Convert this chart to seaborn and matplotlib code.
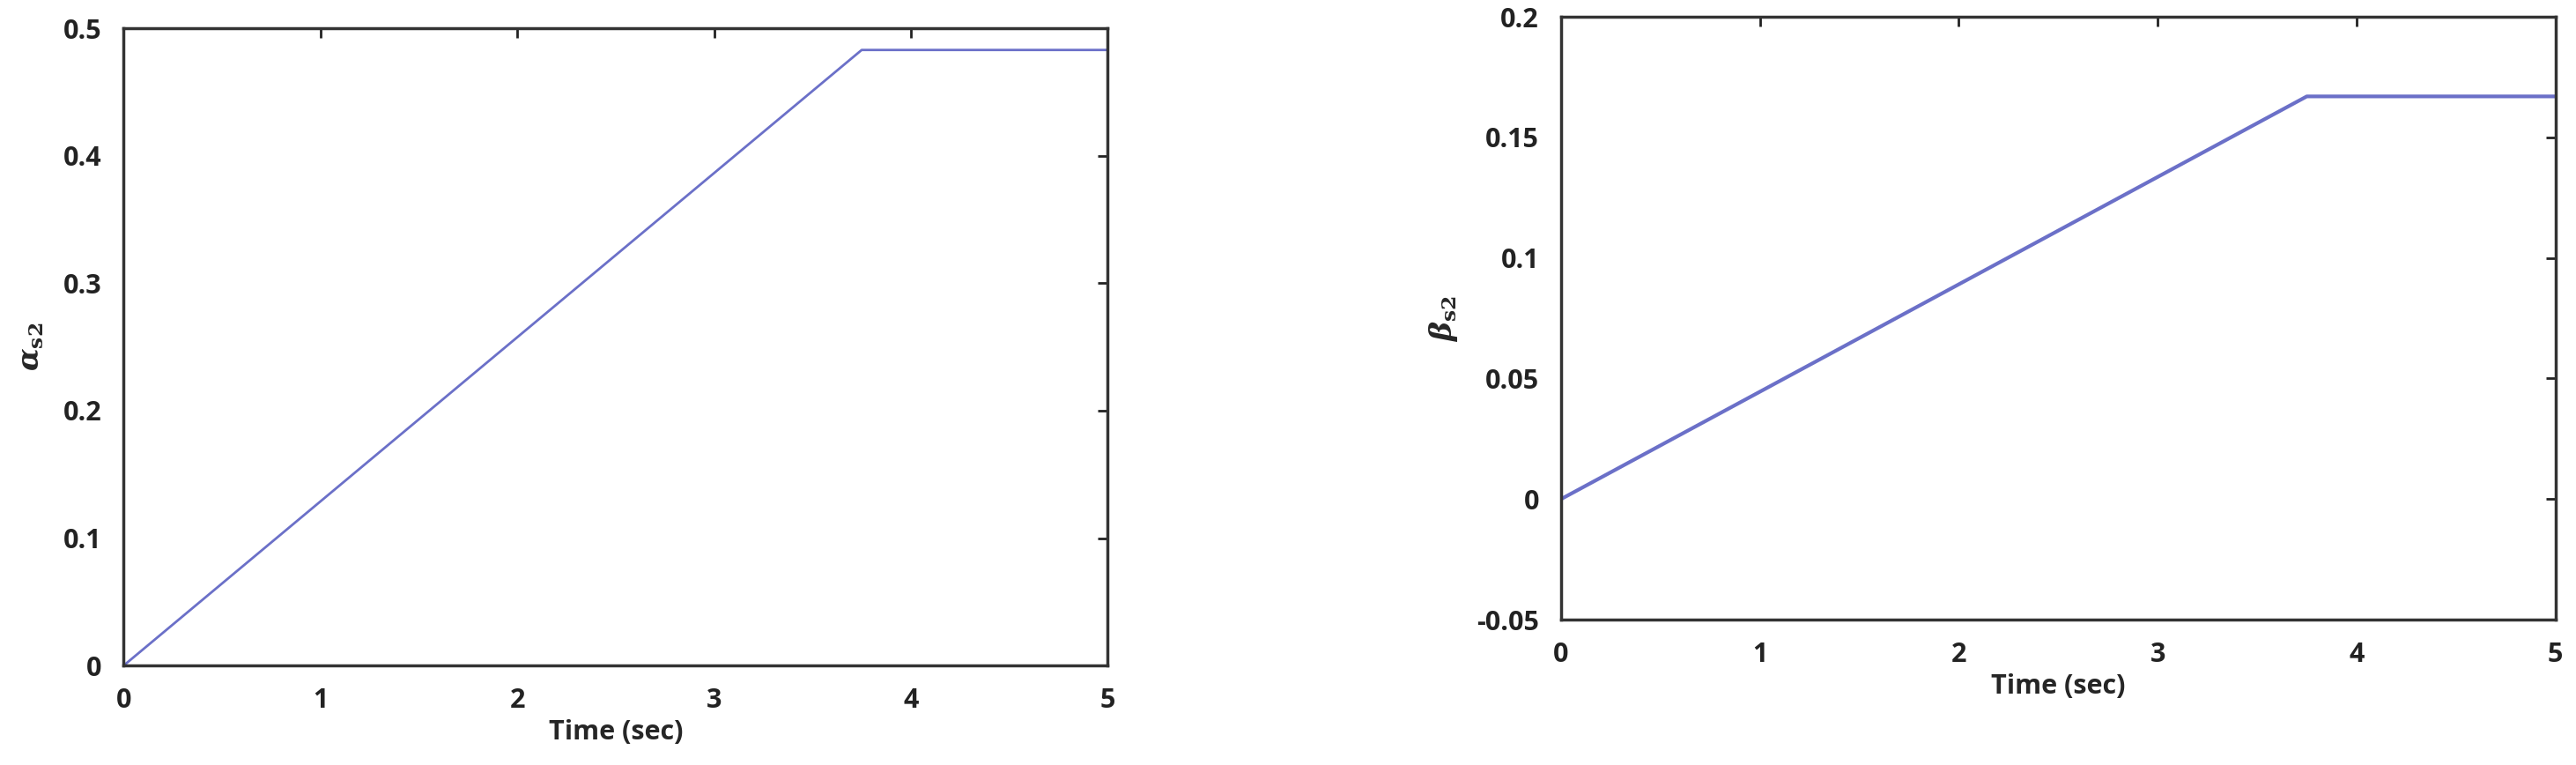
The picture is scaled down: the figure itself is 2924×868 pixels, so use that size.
import matplotlib
matplotlib.use("Agg")
import matplotlib.pyplot as plt
import pandas as pd
import seaborn as sns

time = [0.0, 3.75, 5.0]
alpha_s2 = [0.0, 0.483, 0.483]
beta_s2 = [0.0, 0.167, 0.167]

sns.set_theme(style="white")
plt.rcParams["font.family"] = ["Open Sans", "DejaVu Sans"]
plt.rcParams["mathtext.fontset"] = "dejavuserif"

fig = plt.figure(figsize=(29.24, 8.68), dpi=100)
ax1 = fig.add_axes([0.048, 0.130, 0.382, 0.833])
ax2 = fig.add_axes([0.606, 0.190, 0.386, 0.788])

df = pd.DataFrame({"time": time, "alpha": alpha_s2, "beta": beta_s2})
color = "#6b70c8"

sns.lineplot(data=df, x="time", y="alpha", ax=ax1, color=color, linewidth=2)
sns.lineplot(data=df, x="time", y="beta", ax=ax2, color=color, linewidth=3)

ax1.set_xlim(0, 5)
ax1.set_ylim(0, 0.5)
ax1.set_yticks([0, 0.1, 0.2, 0.3, 0.4, 0.5])
ax1.set_yticklabels(["0", "0.1", "0.2", "0.3", "0.4", "0.5"])
ax1.set_ylabel(r"$\boldsymbol{\alpha}_{\mathbf{s2}}$", fontsize=24, labelpad=14)

ax2.set_xlim(0, 5)
ax2.set_ylim(-0.05, 0.2)
ax2.set_yticks([-0.05, 0, 0.05, 0.1, 0.15, 0.2])
ax2.set_yticklabels(["-0.05", "0", "0.05", "0.1", "0.15", "0.2"])
ax2.set_ylabel(r"$\boldsymbol{\beta}_{\mathbf{s2}}$", fontsize=24, labelpad=14)

for ax in (ax1, ax2):
    ax.set_xticks([0, 1, 2, 3, 4, 5])
    ax.set_xticklabels(["0", "1", "2", "3", "4", "5"])
    ax.set_xlabel("Time (sec)", fontsize=22, fontweight="bold")
    ax.tick_params(direction="in", length=8, width=2, top=True, right=True,
                   labelsize=22, pad=18, colors="#222222")
    for lab in ax.get_xticklabels() + ax.get_yticklabels():
        lab.set_fontweight("bold")
    for s in ax.spines.values():
        s.set_color("#333333")
        s.set_linewidth(2.5)

fig.savefig("out.png", dpi=100)
